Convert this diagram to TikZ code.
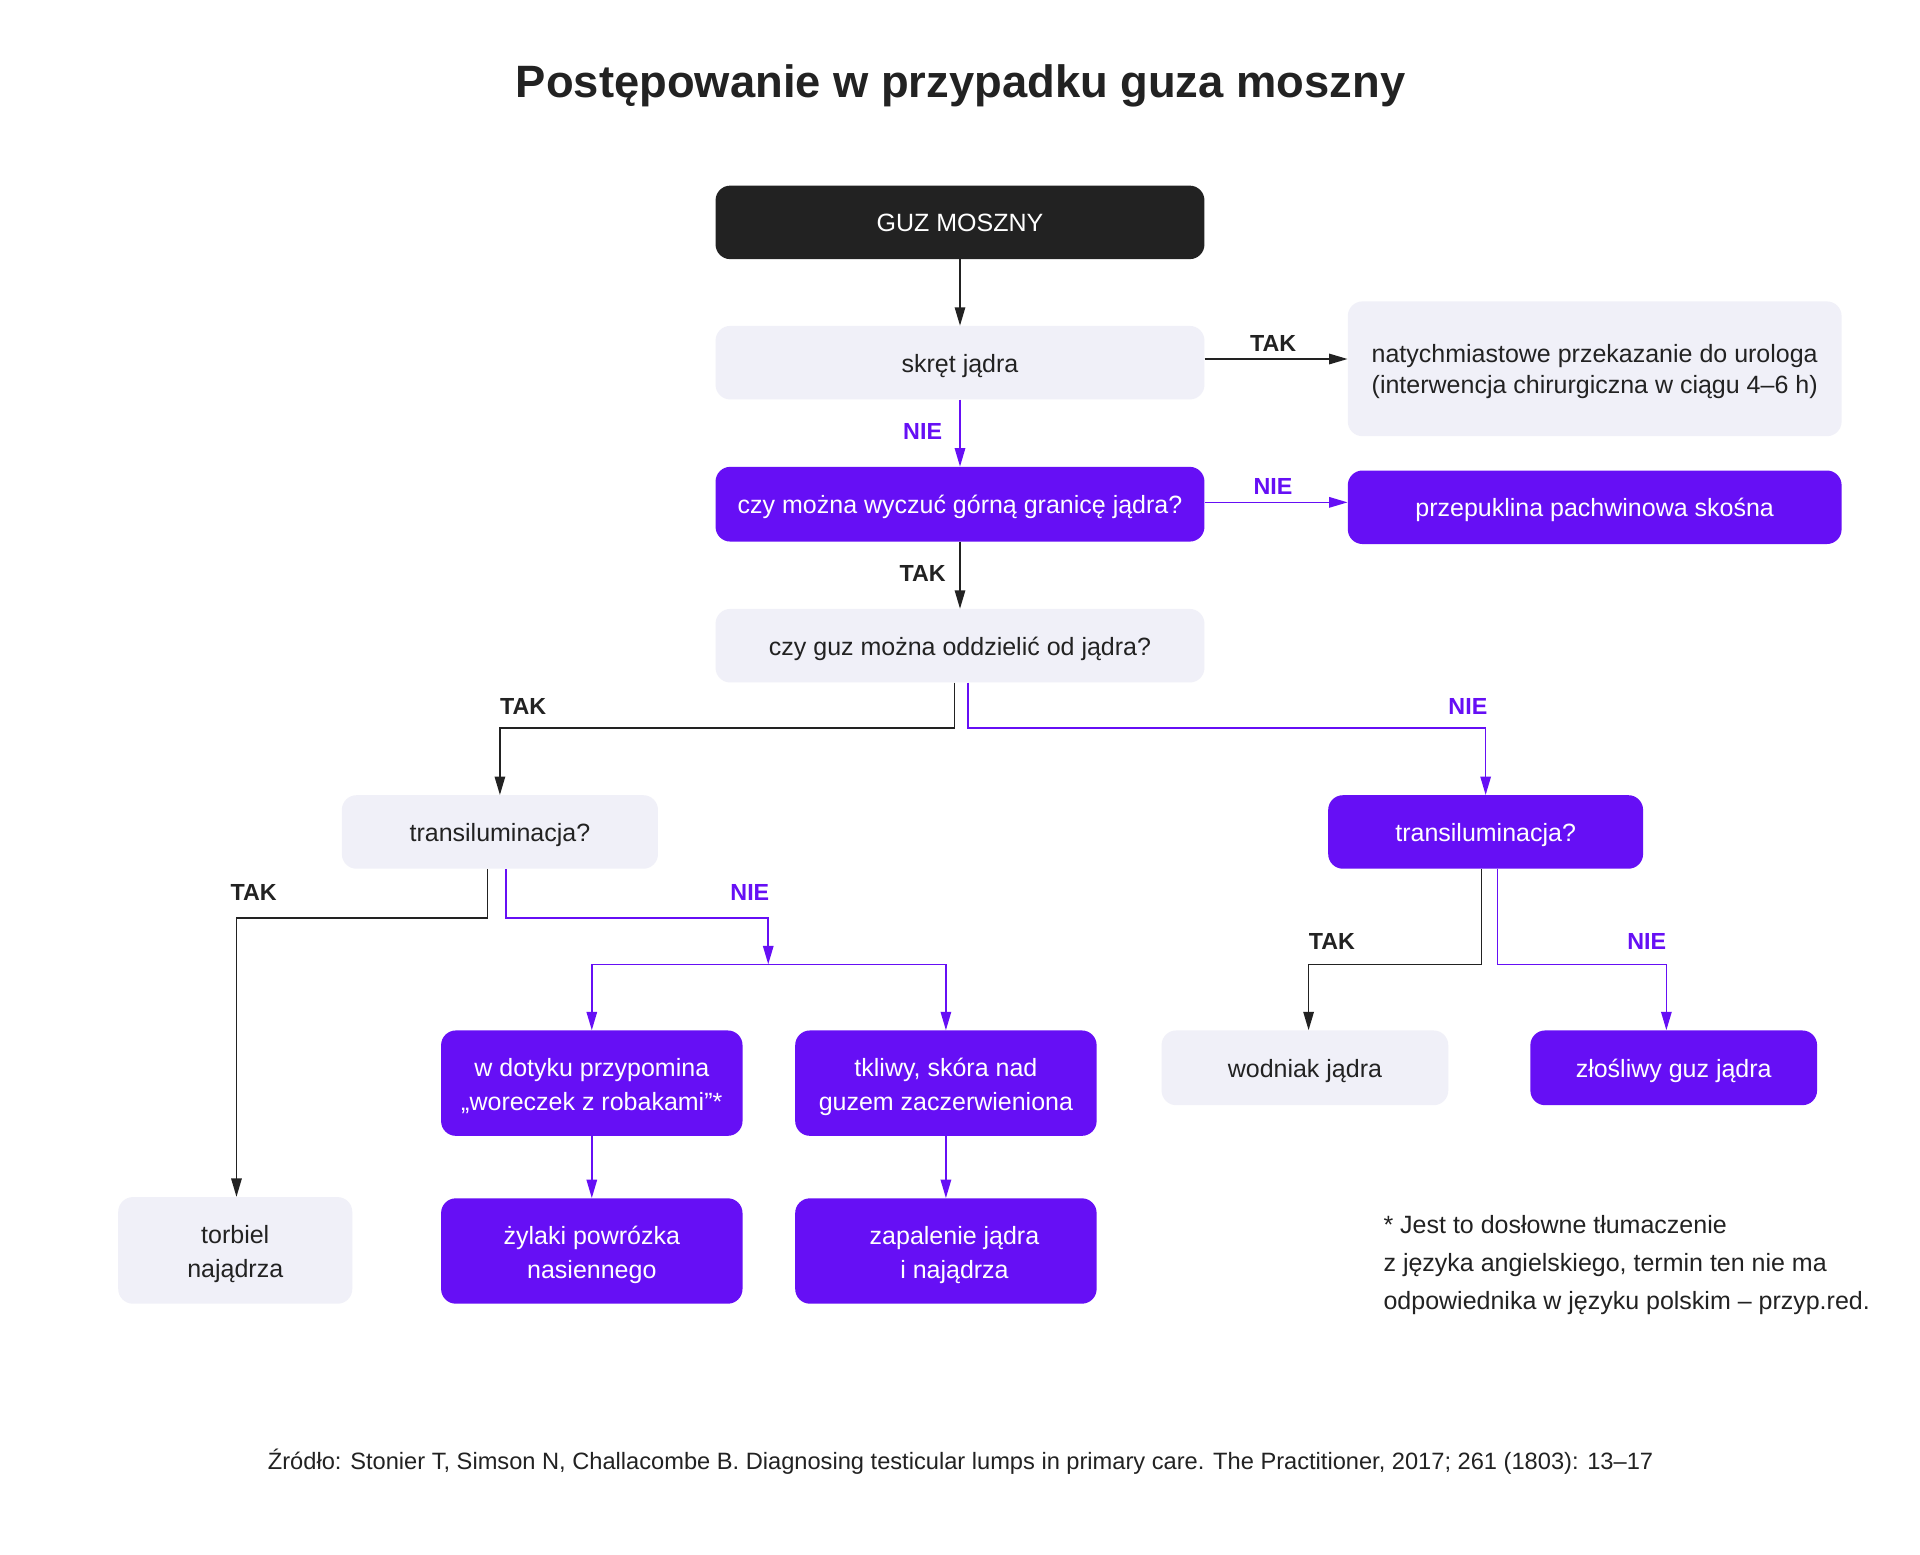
\documentclass[tikz,border=0pt]{standalone}
\usepackage{fontspec}
\setmainfont{Liberation Sans}
\usetikzlibrary{arrows.meta}
\definecolor{purp}{HTML}{660FF5}
\definecolor{lightbox}{HTML}{F0F0F8}
\definecolor{darkbox}{HTML}{222222}
\definecolor{txt}{HTML}{222222}
\newcommand\tstr[1]{\rule{0pt}{#1pt}}
\tikzset{
  box/.style={rounded corners=12pt, inner sep=0pt, align=center, font=\fontsize{20.4}{28}\selectfont},
  one/.style={text height=16pt, text depth=0.4pt},
  two/.style={execute at end node={\rule[-5pt]{0pt}{5pt}}},
  lbox/.style={box, fill=lightbox, text=txt},
  pbox/.style={box, fill=purp, text=white},
  dbox/.style={box, fill=darkbox, text=white},
  lineblk/.style={draw=txt, line width=1.3pt},
  linepur/.style={draw=purp, line width=1.3pt},
  blk/.style={lineblk, -{Triangle[width=8.5pt,length=15pt]}},
  pur/.style={linepur, -{Triangle[width=8.5pt,length=15pt]}},
  lab/.style={font=\fontsize{19}{22}\selectfont\bfseries, inner sep=0pt},
  labk/.style={lab, text=txt},
  labp/.style={lab, text=purp},
}
\begin{document}
\begin{tikzpicture}[x=1pt,y=-1pt]
\useasboundingbox (0,0) rectangle (1567,1269);
\fill[white] (0,0) rectangle (1567,1269);
% title
\node[font=\fontsize{37}{40}\selectfont\bfseries, text=txt] (title) at (784,70) {Postępowanie w przypadku guza moszny};
% boxes
\node[dbox, one, minimum width=399pt, minimum height=60pt] (guz) at (783.5,181.5) {GUZ MOSZNY};
\node[lbox, one, minimum width=399pt, minimum height=60pt] (skret) at (783.5,296) {skręt jądra};
\node[lbox, two, minimum width=403pt, minimum height=110pt, font=\fontsize{20.4}{25}\selectfont] (nat) at (1301.5,301) {\tstr{19.5}natychmiastowe przekazanie do urologa\\(interwencja chirurgiczna w ciągu 4–6 h)};
\node[pbox, one, minimum width=399pt, minimum height=61pt] (czym) at (783.5,411.5) {czy można wyczuć górną granicę jądra?};
\node[pbox, one, minimum width=403pt, minimum height=60pt] (prze) at (1301.5,414) {przepuklina pachwinowa skośna};
\node[lbox, one, minimum width=399pt, minimum height=60pt] (czyg) at (783.5,527) {czy guz można oddzielić od jądra?};
\node[lbox, one, minimum width=258pt, minimum height=60pt] (trL) at (408,679) {transiluminacja?};
\node[pbox, one, minimum width=257pt, minimum height=60pt] (trR) at (1212.5,679) {transiluminacja?};
\node[pbox, two, minimum width=246pt, minimum height=86pt] (wdot) at (483,884) {\tstr{22}w dotyku przypomina\\„woreczek z robakami”*};
\node[pbox, two, minimum width=246pt, minimum height=86pt] (tkl) at (772,884) {\tstr{22}tkliwy, skóra nad\\guzem zaczerwieniona};
\node[lbox, one, minimum width=234pt, minimum height=61pt] (wod) at (1065,871.5) {wodniak jądra};
\node[pbox, one, minimum width=234pt, minimum height=61pt] (zlo) at (1366,871.5) {złośliwy guz jądra};
\node[lbox, two, minimum width=191pt, minimum height=87pt] (torb) at (192,1020.5) {\tstr{22}torbiel\\najądrza};
\node[pbox, two, minimum width=246pt, minimum height=86pt] (zyl) at (483,1021) {\tstr{22}żylaki powrózka\\nasiennego};
\node[pbox, two, minimum width=246pt, minimum height=86pt] (zap) at (772,1021) {\tstr{22}\hspace*{14pt}zapalenie jądra\\\hspace*{14pt}i najądrza};
% junction coordinates
\coordinate (jL) at (408,594);
\coordinate (jR) at (1212.5,594);
\coordinate (jTL) at (193,749);
\coordinate (jNL) at (627,749);
\coordinate (jNM) at (627,787);
\coordinate (jW) at (483,787);
\coordinate (jT) at (772,787);
\coordinate (jRW) at (1068,787);
\coordinate (jRZ) at (1360,787);
% connectors
\draw[blk] (guz.south) -- (skret.north);
\draw[blk] ([yshift=3pt]skret.east) -- ([yshift=3pt]skret.east -| nat.west);
\draw[pur] (skret.south) -- (czym.north);
\draw[pur] ([yshift=1.5pt]czym.east) -- ([yshift=1.5pt]czym.east -| prze.west);
\draw[blk] (czym.south) -- (czyg.north);
\draw[blk] ([xshift=-4.5pt]czyg.south) |- (jL) -- (trL.north);
\draw[pur] ([xshift=6.5pt]czyg.south) |- (jR) -- (trR.north);
\draw[blk] ([xshift=-10pt]trL.south) |- (jTL) -- ([xshift=1pt]torb.north);
\draw[pur] ([xshift=5pt]trL.south) |- (jNL) -- (jNM);
\draw[linepur] (jW) -- (jT);
\draw[pur] (jW) -- (wdot.north);
\draw[pur] (jT) -- (tkl.north);
\draw[pur] (wdot.south) -- (zyl.north);
\draw[pur] (tkl.south) -- (zap.north);
\draw[blk] ([xshift=-3.5pt]trR.south) |- (jRW) -- ([xshift=3pt]wod.north);
\draw[pur] ([xshift=9.5pt]trR.south) |- (jRZ) -- ([xshift=-6pt]zlo.north);
% labels
\node[labk] (l1) at (1039,280) {TAK};
\node[labp] (l2) at (753,352) {NIE};
\node[labp] (l3) at (1039,397) {NIE};
\node[labk] (l4) at (753,468) {TAK};
\node[labk] (l5) at (427,577) {TAK};
\node[labp] (l6) at (1198,577) {NIE};
\node[labk] (l7) at (207,728) {TAK};
\node[labp] (l8) at (612,728) {NIE};
\node[labk] (l9) at (1087,768) {TAK};
\node[labp] (l10) at (1344,768) {NIE};
% footnote
\node[anchor=north west, align=left, text=txt, inner sep=0pt, font=\fontsize{20.4}{31}\selectfont] (fn) at (1129,992) {* Jest to dosłowne tłumaczenie\\z języka angielskiego, termin ten nie ma\\odpowiednika w języku polskim – przyp.red.};
% source
\node[text=txt, font=\fontsize{19.3}{22}\selectfont] (src) at (784,1193) {Źródło: Stonier T, Simson N, Challacombe B. Diagnosing testicular lumps in primary care. The Practitioner, 2017; 261 (1803): 13–17};
\end{tikzpicture}
\end{document}
